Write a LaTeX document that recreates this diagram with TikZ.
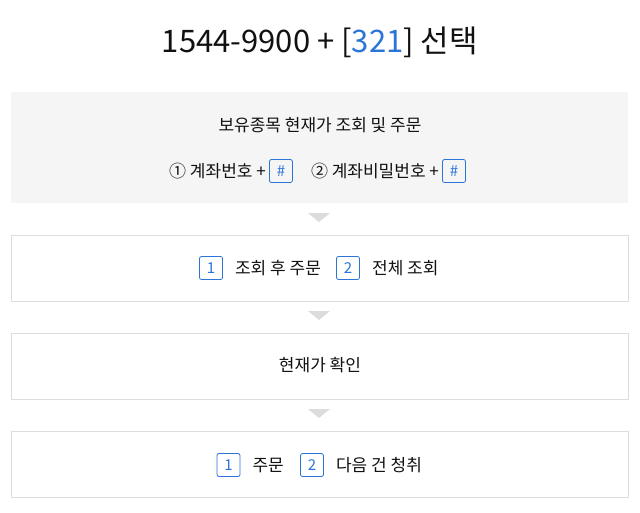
\documentclass[tikz,border=0pt]{standalone}
\usepackage{fontspec}
\setmainfont{Noto Sans CJK KR}
\usetikzlibrary{positioning}
\definecolor{keyblue}{HTML}{2B74D8}
\definecolor{panelgray}{HTML}{F5F5F5}
\definecolor{lineg}{HTML}{DDDDDD}
\definecolor{trig}{HTML}{DCDCDC}
\definecolor{textc}{HTML}{111111}

\tikzset{
  stepbox/.style={draw=lineg, line width=1pt, fill=white},
  keybox/.style={draw=keyblue, rounded corners=2pt, line width=0.8pt, text=keyblue,
    minimum width=23pt, minimum height=23pt, inner sep=0pt, font=\fontsize{15}{15}\selectfont},
  label/.style={text=textc, inner sep=0pt, font=\fontsize{17}{20}\selectfont},
  downtri/.style={fill=trig, draw=none}
}

\begin{document}
\begin{tikzpicture}[x=1pt, y=-1pt]
  \useasboundingbox (0,0) rectangle (640,512);
  \fill[white] (0,0) rectangle (640,512);

  % title
  \node[text=textc, font=\fontsize{31}{34}\selectfont] (title) at (320,42)
    {1544-9900 + [\textcolor{keyblue}{321}] 선택};

  % panel with the login steps
  \fill[panelgray] (11,92) rectangle (628,203);
  \node[label] (menu) at (320,125) {보유종목 현재가 조회 및 주문};
  \node[label, anchor=west] (acct) at (169,171) {① 계좌번호 +};
  \node[keybox, right=3pt of acct] (hash1) {\#};
  \node[label, right=18pt of hash1] (pwd) {② 계좌비밀번호 +};
  \node[keybox, right=3pt of pwd] (hash2) {\#};

  % step boxes
  \foreach \top/\name in {235/boxA, 333/boxB, 431/boxC} {
    \draw[stepbox] (11,\top) rectangle (628,\top+66);
  }
  \foreach \y in {213, 311, 409} {
    \fill[downtri] (308,\y) -- (330,\y) -- (319,\y+9) -- cycle;
  }

  % step 1
  \node[keybox] (s1k1) at (211,268) {1};
  \node[label, right=12pt of s1k1] (s1t1) {조회 후 주문};
  \node[keybox, right=15pt of s1t1] (s1k2) {2};
  \node[label, right=12pt of s1k2] (s1t2) {전체 조회};

  % step 2
  \node[label] (price) at (320,365) {현재가 확인};

  % step 3
  \node[keybox] (s3k1) at (228.5,465) {1};
  \node[label, right=12pt of s3k1] (s3t1) {주문};
  \node[keybox, right=16pt of s3t1] (s3k2) {2};
  \node[label, right=12pt of s3k2] (s3t2) {다음 건 청취};
\end{tikzpicture}
\end{document}
